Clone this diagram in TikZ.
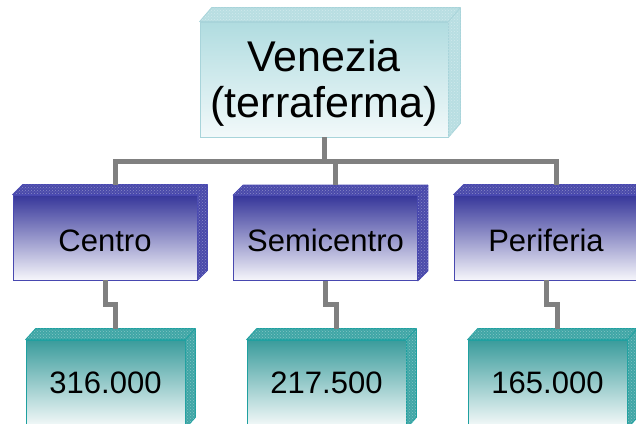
\documentclass[tikz,border=0pt]{standalone}
\usepackage{fontspec}
\setmainfont{Liberation Sans}
\usetikzlibrary{patterns}
\definecolor{bluetop}{HTML}{36369A}
\definecolor{bluebot}{HTML}{F6F6FB}
\definecolor{blueedge}{HTML}{4848B0}
\definecolor{blueside}{HTML}{4A4AAA}
\definecolor{tealtop}{HTML}{3A9C9C}
\definecolor{tealbot}{HTML}{F8FBFB}
\definecolor{tealedge}{HTML}{1FA0A0}
\definecolor{tealside}{HTML}{40A6A6}
\definecolor{cyantop}{HTML}{B0DCE0}
\definecolor{cyanbot}{HTML}{F2F9FA}
\definecolor{cyanedge}{HTML}{A8D4DA}
\definecolor{cyanside}{HTML}{B8DEE2}
\definecolor{conngray}{HTML}{808080}
\newcommand\depthfaces[5]{%
  \filldraw[fill=#4, draw=#5, line width=0.8pt, line join=round]
    (#1.north west) -- ++(#2,-#3) -- ([shift={(#2,-#3)}]#1.north east)
    -- ([shift={(#2,-#3)}]#1.south east) -- (#1.south east) -- (#1.north east) -- cycle;
  \fill[pattern=crosshatch dots, pattern color=white, opacity=0.35]
    (#1.north west) -- ++(#2,-#3) -- ([shift={(#2,-#3)}]#1.north east)
    -- ([shift={(#2,-#3)}]#1.south east) -- (#1.south east) -- (#1.north east) -- cycle;
  \draw[draw=#5, line width=0.8pt] (#1.north east) -- ++(#2,-#3);
}
\begin{document}
\begin{tikzpicture}[x=1pt,y=-1pt,
  face/.style={rectangle, inner sep=0pt, line width=0.8pt},
  topbox/.style={face, draw=cyanedge, top color=cyantop, bottom color=cyanbot,
    minimum width=248pt, minimum height=115pt, align=center,
    font=\fontsize{43}{45.5}\selectfont},
  bluebox/.style={face, draw=blueedge, top color=bluetop, bottom color=bluebot,
    minimum width=184pt, minimum height=85pt,
    font=\fontsize{31}{31}\selectfont, text height=27pt, text depth=0pt},
  tealbox/.style={face, draw=tealedge, top color=tealtop, bottom color=tealbot,
    minimum width=159pt, minimum height=88pt,
    font=\fontsize{31}{31}\selectfont, text height=22pt, text depth=4pt},
  conn/.style={draw=conngray, line width=5pt}]
\useasboundingbox[fill=white] (0,0) rectangle (636,423);

% nodes
\node[topbox] (ven) at (324,79.5) {\rule{0pt}{39.5pt}Venezia\\(terraferma)\rule[-10pt]{0pt}{10pt}};
\node[bluebox] (cen) at (105,237.5) {Centro};
\node[bluebox] (sem) at (325.5,238) {Semicentro};
\node[bluebox] (per) at (546,237.5) {Periferia};
\node[tealbox] (v1) at (105.5,384) {316.000};
\node[tealbox] (v2) at (326.5,384) {217.500};
\node[tealbox] (v3) at (547.5,384) {165.000};

% depth faces
\depthfaces{ven}{12}{14}{cyanside}{cyanedge}
\depthfaces{cen}{10}{10}{blueside}{blueedge}
\depthfaces{sem}{10}{10}{blueside}{blueedge}
\depthfaces{per}{10}{10}{blueside}{blueedge}
\depthfaces{v1}{10}{11}{tealside}{tealedge}
\depthfaces{v2}{10}{11}{tealside}{tealedge}
\depthfaces{v3}{10}{11}{tealside}{tealedge}

% connection points
\coordinate (bar) at (0,161);
\coordinate (cent) at ([shift={(10,-10)}]cen.north);
\coordinate (semt) at ([shift={(10,-10)}]sem.north);
\coordinate (pert) at ([shift={(10,-10)}]per.north);
\coordinate (v1t) at ([shift={(10,-11)}]v1.north);
\coordinate (v2t) at ([shift={(10,-11)}]v2.north);
\coordinate (v3t) at ([shift={(10,-11)}]v3.north);

% connectors
\draw[conn] (ven.south) -- (ven.south |- bar);
\draw[conn] (cent) -- (cent |- bar) -- (pert |- bar) -- (pert);
\draw[conn] (semt) -- (semt |- bar);
\draw[conn] (cen.south) -- ++(0,24) -| (v1t);
\draw[conn] (sem.south) -- ++(0,24) -| (v2t);
\draw[conn] (per.south) -- ++(0,24) -| (v3t);
\end{tikzpicture}
\end{document}
